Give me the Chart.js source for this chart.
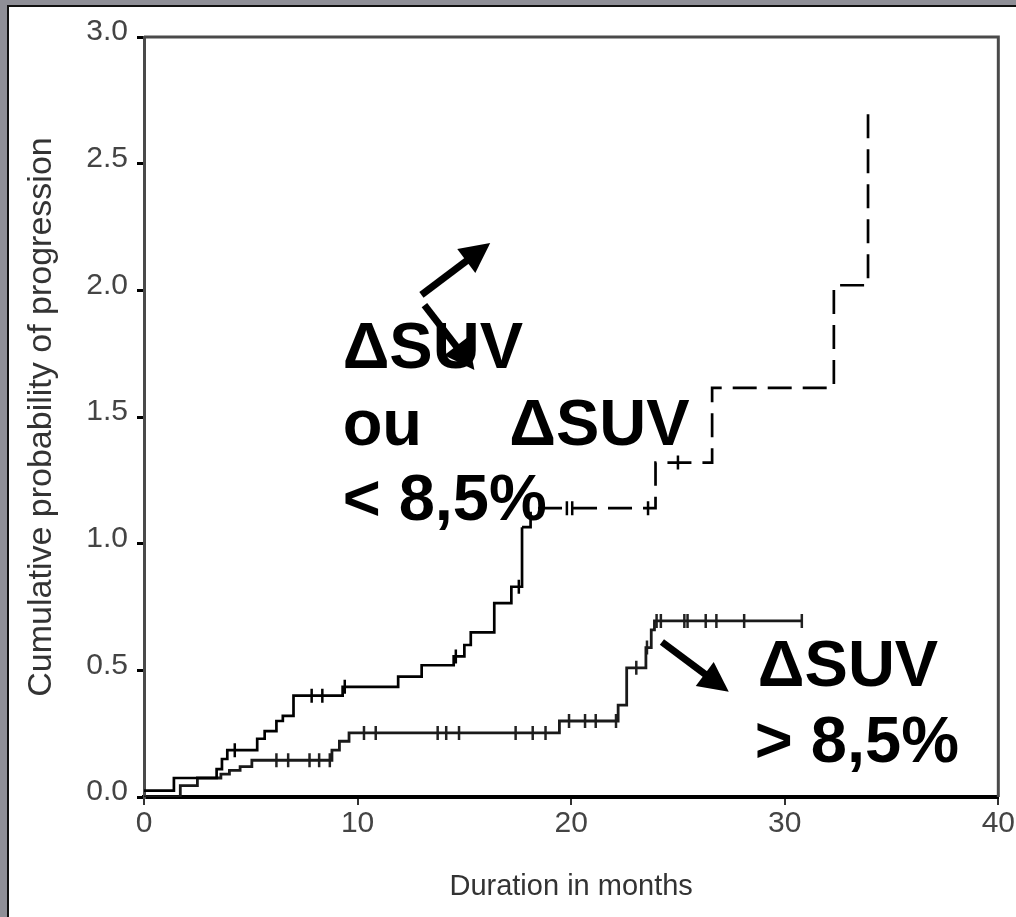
<!DOCTYPE html>
<html>
<head>
<meta charset="utf-8">
<script src="https://cdn.jsdelivr.net/npm/chart.js@4.4.1/dist/chart.umd.min.js"></script>
<style>
  html, body { margin: 0; padding: 0; }
  body { width: 1016px; height: 917px; background: #8f8f97; overflow: hidden; position: relative; }
  #panel { position: absolute; left: 7px; top: 5px; width: 1009px; height: 912px; background: #fff;
           border-left: 2px solid #111; border-top: 2px solid #111; box-sizing: border-box; }
  #wrap { position: absolute; left: 9px; top: 7px; width: 1007px; height: 910px; }
</style>
</head>
<body>
<div id="panel"></div>
<div id="wrap"><canvas id="km"></canvas></div>
<script>
// step curves: time (months) -> cumulative value after the step
const highTimes  = [0, 1.4, 3.4, 3.65, 3.9, 5.3, 5.65, 6.2, 6.5, 7.0, 9.3, 11.9, 13.0, 14.5, 15.0, 15.3, 16.4, 17.2, 17.7, 18.1, 23.95, 26.6, 32.3, 33.9];
const highValues = [0.025, 0.075, 0.11, 0.15, 0.185, 0.23, 0.26, 0.30, 0.32, 0.40, 0.435, 0.475, 0.52, 0.555, 0.60, 0.65, 0.765, 0.83, 1.065, 1.14, 1.32, 1.615, 2.02, 2.71];
const highCensored = [4.25, 7.85, 8.35, 9.4, 14.6, 17.55, 19.8, 20.05, 23.6, 25.0];

const lowTimes  = [0, 1.7, 2.5, 3.6, 4.0, 4.5, 5.05, 8.8, 9.15, 9.6, 19.45, 22.2, 22.6, 23.5, 23.75, 23.9, 30.8];
const lowValues = [0, 0.045, 0.075, 0.09, 0.105, 0.12, 0.145, 0.185, 0.22, 0.253, 0.30, 0.363, 0.51, 0.59, 0.66, 0.695, 0.695];
const lowCensored = [6.2, 6.75, 7.75, 8.2, 8.7, 10.3, 10.85, 13.75, 14.15, 14.75, 17.4, 18.2, 18.8, 19.9, 20.65, 21.15, 22.1, 23.05, 23.55, 24.0, 24.2, 25.3, 25.45, 26.3, 26.8, 28.1, 30.8];

const xTicks = [0, 10, 20, 30, 40];
const yTicks = [0.0, 0.5, 1.0, 1.5, 2.0, 2.5, 3.0];

// annotations (data units)
const notes = [
  { text: 'ΔSUV',   x: 9.3,   y: 1.694 },
  { text: 'ou',     x: 9.3,   y: 1.390 },
  { text: '< 8,5%', x: 9.3,   y: 1.094 },
  { text: 'ΔSUV',   x: 17.1,  y: 1.390 },
  { text: 'ΔSUV',   x: 28.74, y: 0.438 },
  { text: '> 8,5%', x: 28.6,  y: 0.138 }
];
const arrows = [
  { from: [12.99, 1.982], to: [16.21, 2.187] },
  { from: [13.13, 1.942], to: [15.47, 1.686] },
  { from: [24.25, 0.612], to: [27.38, 0.415] }
];

function toPoints(xs, ys) {
  return xs.map((x, i) => ({ x: x, y: ys[i] }));
}

// value of a step curve at time t (for placing the censor ticks on it)
function stepAt(xs, ys, t) {
  let v = ys[0];
  for (let i = 0; i < xs.length; i++) {
    if (xs[i] <= t) v = ys[i];
  }
  return v;
}

function censorPoints(xs, ys, times) {
  return times.map(t => ({ x: t, y: stepAt(xs, ys, t) }));
}

const frame = {
  id: 'frame',
  afterDatasetsDraw(chart) {
    const { ctx, chartArea: a, scales } = chart;
    ctx.save();
    ctx.strokeStyle = '#4a4a4a';
    ctx.lineWidth = 3;
    ctx.beginPath();
    ctx.moveTo(a.left, a.top);
    ctx.lineTo(a.right, a.top);
    ctx.lineTo(a.right, a.bottom);
    ctx.stroke();

    ctx.fillStyle = '#000';
    ctx.font = 'bold 65px "Liberation Sans", Arial, sans-serif';
    ctx.textBaseline = 'alphabetic';
    ctx.textAlign = 'left';
    notes.forEach(n => {
      ctx.fillText(n.text, scales.x.getPixelForValue(n.x), scales.y.getPixelForValue(n.y));
    });

    arrows.forEach(ar => {
      const x0 = scales.x.getPixelForValue(ar.from[0]);
      const y0 = scales.y.getPixelForValue(ar.from[1]);
      const x1 = scales.x.getPixelForValue(ar.to[0]);
      const y1 = scales.y.getPixelForValue(ar.to[1]);
      const ang = Math.atan2(y1 - y0, x1 - x0);
      const head = 30, half = 15;
      const bx = x1 - head * Math.cos(ang), by = y1 - head * Math.sin(ang);
      ctx.strokeStyle = '#000';
      ctx.lineWidth = 7;
      ctx.lineCap = 'butt';
      ctx.beginPath();
      ctx.moveTo(x0, y0);
      ctx.lineTo(bx + 2 * Math.cos(ang), by + 2 * Math.sin(ang));
      ctx.stroke();
      ctx.beginPath();
      ctx.moveTo(x1, y1);
      ctx.lineTo(bx + half * Math.sin(ang), by - half * Math.cos(ang));
      ctx.lineTo(bx - half * Math.sin(ang), by + half * Math.cos(ang));
      ctx.closePath();
      ctx.fill();
    });
    ctx.restore();
  }
};

const tickFont = { family: '"Liberation Sans", Arial, sans-serif', size: 30 };

new Chart(document.getElementById('km'), {
  type: 'scatter',
  data: {
    datasets: [
      {
        label: 'high',
        data: toPoints(highTimes, highValues),
        showLine: true,
        stepped: true,
        borderColor: '#000',
        borderWidth: 2.7,
        pointRadius: 0,
        segment: {
          borderDash: c => c.p0.parsed.x >= 17.7 ? [24, 11] : undefined
        }
      },
      {
        label: 'low',
        data: toPoints(lowTimes, lowValues),
        showLine: true,
        stepped: true,
        borderColor: '#1a1a1a',
        borderWidth: 2.8,
        pointRadius: 0
      },
      {
        label: 'high censored',
        data: censorPoints(highTimes, highValues, highCensored),
        pointStyle: 'line',
        rotation: 90,
        pointRadius: 7,
        borderColor: '#000',
        borderWidth: 2.5
      },
      {
        label: 'low censored',
        data: censorPoints(lowTimes, lowValues, lowCensored),
        pointStyle: 'line',
        rotation: 90,
        pointRadius: 7,
        borderColor: '#222',
        borderWidth: 2.5
      }
    ]
  },
  options: {
    responsive: true,
    maintainAspectRatio: false,
    animation: false,
    events: [],
    layout: { padding: { top: 30, right: 16, left: 0, bottom: 0 } },
    plugins: { legend: { display: false }, tooltip: { enabled: false } },
    scales: {
      x: {
        type: 'linear',
        min: 0,
        max: 40,
        afterFit: s => { s.height = 120; },
        afterBuildTicks: s => { s.ticks = xTicks.map(v => ({ value: v })); },
        border: { color: '#000', width: 4 },
        grid: { drawOnChartArea: false, tickLength: 8, color: '#333', lineWidth: 2 },
        ticks: { font: tickFont, color: '#444', padding: 1, maxRotation: 0 },
        title: {
          display: true,
          text: 'Duration in months',
          font: { family: '"Liberation Sans", Arial, sans-serif', size: 29 },
          color: '#333',
          padding: { top: 0, bottom: 13 }
        }
      },
      y: {
        type: 'linear',
        min: 0,
        max: 3,
        afterFit: s => { s.width = 135; },
        afterBuildTicks: s => { s.ticks = yTicks.map(v => ({ value: v })); },
        border: { color: '#4a4a4a', width: 3 },
        grid: { drawOnChartArea: false, tickLength: 7, color: '#000', lineWidth: 3 },
        ticks: { font: tickFont, color: '#444', padding: 9, labelOffset: -5, callback: v => v.toFixed(1) },
        title: {
          display: true,
          text: 'Cumulative probability of progression',
          font: { family: '"Liberation Sans", Arial, sans-serif', size: 34 },
          color: '#333',
          padding: { top: 12.5, bottom: 0 }
        }
      }
    }
  },
  plugins: [frame]
});
</script>
</body>
</html>
